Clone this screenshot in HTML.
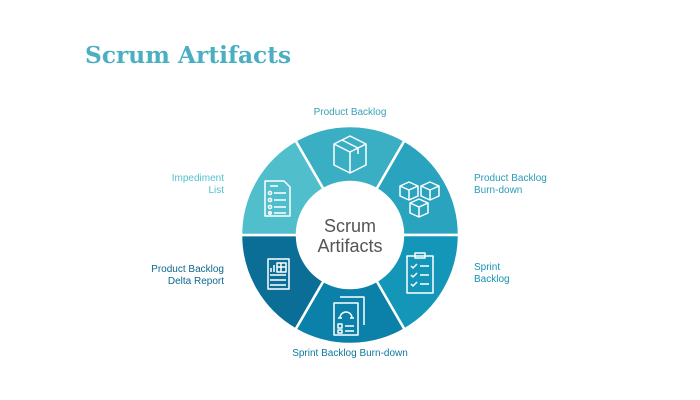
<!DOCTYPE html>
<html><head><meta charset="utf-8"><style>
html,body{margin:0;padding:0;background:#fff;width:700px;height:400px;overflow:hidden}
</style></head><body>
<svg width="700" height="400" viewBox="0 0 700 400" xmlns="http://www.w3.org/2000/svg">
<text x="85" y="63" font-family="DejaVu Serif, Liberation Serif, serif" font-weight="bold" font-size="23.3" fill="#4aafc0">Scrum Artifacts</text>
<g stroke="#fff" stroke-width="2.5">
<path d="M295.5,140.6 A109,109 0 0 1 404.5,140.6 L376.5,189.1 A53,53 0 0 0 323.5,189.1 Z" fill="#3aafc4"/>
<path d="M404.5,140.6 A109,109 0 0 1 459,235 L403,235 A53,53 0 0 0 376.5,189.1 Z" fill="#2aa3be"/>
<path d="M459,235 A109,109 0 0 1 404.5,329.4 L376.5,280.9 A53,53 0 0 0 403,235 Z" fill="#1396b8"/>
<path d="M404.5,329.4 A109,109 0 0 1 295.5,329.4 L323.5,280.9 A53,53 0 0 0 376.5,280.9 Z" fill="#0b80a8"/>
<path d="M295.5,329.4 A109,109 0 0 1 241,235 L297,235 A53,53 0 0 0 323.5,280.9 Z" fill="#0a6e96"/>
<path d="M241,235 A109,109 0 0 1 295.5,140.6 L323.5,189.1 A53,53 0 0 0 297,235 Z" fill="#50bfcb"/>
</g>
<circle cx="350" cy="235" r="51" fill="#fff"/>
<text x="350" y="232" text-anchor="middle" font-family="Liberation Sans, sans-serif" font-size="18" fill="#555">Scrum</text>
<text x="350" y="252" text-anchor="middle" font-family="Liberation Sans, sans-serif" font-size="18" fill="#555">Artifacts</text>
<g fill="none" stroke="#fff" stroke-width="1.5" stroke-linejoin="round">
<path d="M350,136 L366,144 L366,165 L350,173 L334,165 L334,144 Z M334,144 L350,152 L366,144 M350,152 L350,173 M342,140 L358,148 L358,154"/>
<path d="M400,186 l9,-4 l9,4 v10 l-9,4 l-9,-4 Z M400,186 l9,4 l9,-4 M409,190 v10"/>
<path d="M421,186 l9,-4 l9,4 v10 l-9,4 l-9,-4 Z M421,186 l9,4 l9,-4 M430,190 v10"/>
<path d="M410,203 l9,-4 l9,4 v10 l-9,4 l-9,-4 Z M410,203 l9,4 l9,-4 M419,207 v10"/>
<path d="M265,181 h19 l6,6 v29 h-25 Z M270,186 h8"/>
<circle cx="270" cy="193" r="1.6"/><circle cx="270" cy="200" r="1.6"/><circle cx="270" cy="207" r="1.6"/><circle cx="270" cy="213" r="1.3"/>
<path d="M274,193 h12 M274,200 h12 M274,207 h12 M274,213 h12"/>
<path d="M407,256 h26 v37 h-26 Z M415,253 h10 v5 h-10 Z M411,266 l2,2 l4,-4 M411,275 l2,2 l4,-4 M411,284 l2,2 l4,-4 M420,266 h9 M420,275 h9 M420,284 h9"/>
<path d="M268,259 h21 v30 h-21 Z M277,263 h9 v9 h-9 Z M281,263 v9 M277,267 h9 M270,275 h16 M270,280 h16 M270,285 h16 M271,272 v-4 M274,272 v-7"/>
<path d="M340,297 h24 v28 M334,303 h24 v32 h-24 Z M340,318 a6,6 0 0 1 12,0 M338,318 h4 M350,318 h4 M338,324 h4 v4 h-4 Z M338,330 h4 v3 h-4 Z M345,326 h9 M345,331 h9"/>
</g>
<g font-family="Liberation Sans, sans-serif" font-size="10">
<text x="350" y="115" text-anchor="middle" fill="#3aa0b8">Product Backlog</text>
<text x="474" y="181" fill="#2a9cb8">Product Backlog</text>
<text x="474" y="193" fill="#2a9cb8">Burn-down</text>
<text x="474" y="270" fill="#1592b5">Sprint</text>
<text x="474" y="282" fill="#1592b5">Backlog</text>
<text x="350" y="356" text-anchor="middle" fill="#0b78a0">Sprint Backlog Burn-down</text>
<text x="224" y="181" text-anchor="end" fill="#55bfcc">Impediment</text>
<text x="224" y="193" text-anchor="end" fill="#55bfcc">List</text>
<text x="224" y="272" text-anchor="end" fill="#0b6890">Product Backlog</text>
<text x="224" y="284" text-anchor="end" fill="#0b6890">Delta Report</text>
</g>
</svg>
</body></html>
